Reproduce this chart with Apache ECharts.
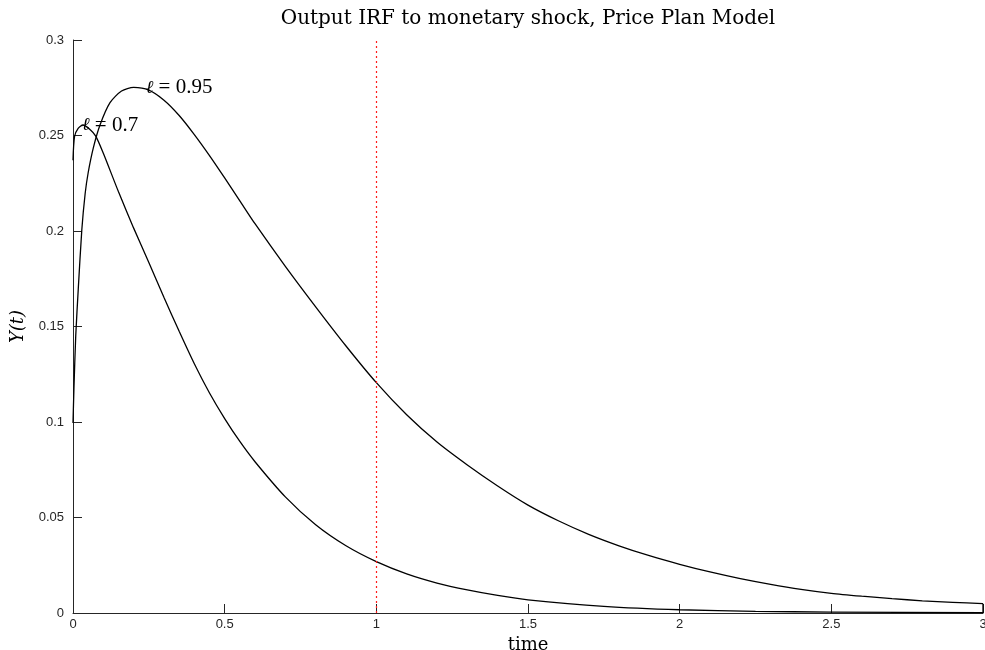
<!DOCTYPE html>
<html>
<head>
<meta charset="utf-8">
<script src="https://cdn.jsdelivr.net/npm/echarts@6/dist/echarts.min.js"></script>
<style>html,body{margin:0;padding:0;background:#fff;overflow:hidden}#c{width:985px;height:650px}</style>
</head>
<body>
<div id="c"></div>
<script>
const titleText = 'Output IRF to monetary shock, Price Plan Model';
const xTicks = [0, 0.5, 1, 1.5, 2, 2.5, 3];
const yTicks = [0, 0.05, 0.1, 0.15, 0.2, 0.25, 0.3];
const curve095 = [
  [0, 0.0995], [0.003, 0.117], [0.009, 0.145], [0.0175, 0.170], [0.029, 0.2005],
  [0.04, 0.2195], [0.05, 0.2305], [0.067, 0.2435], [0.089, 0.2555], [0.122, 0.2672],
  [0.16, 0.2733], [0.2, 0.2752], [0.25, 0.2738], [0.3, 0.2685], [0.35, 0.2605],
  [0.4, 0.2505], [0.45, 0.2395], [0.5, 0.2278], [0.55, 0.2158], [0.6, 0.2038],
  [0.7, 0.1815], [0.8, 0.1603], [0.9, 0.1398], [1.0, 0.1206], [1.1, 0.1038],
  [1.2, 0.0895], [1.3, 0.0775], [1.4, 0.0665], [1.5, 0.0565], [1.6, 0.0483],
  [1.7, 0.0412], [1.8, 0.0352], [1.9, 0.0300], [2.0, 0.0255], [2.1, 0.0215],
  [2.2, 0.0180], [2.3, 0.0150], [2.4, 0.0124], [2.5, 0.0103], [2.6, 0.0088],
  [2.7, 0.0075], [2.8, 0.0064], [2.9, 0.0056], [3.0, 0.0049]
];
const curve07 = [
  [0, 0.237], [0.005, 0.2494], [0.017, 0.2537], [0.033, 0.2555], [0.056, 0.2532],
  [0.075, 0.2497], [0.1, 0.2407], [0.15, 0.2205], [0.2, 0.2015], [0.25, 0.1835],
  [0.3, 0.1652], [0.35, 0.1475], [0.4, 0.1305], [0.45, 0.1152], [0.5, 0.1018],
  [0.55, 0.0898], [0.6, 0.0792], [0.7, 0.0608], [0.8, 0.0462], [0.9, 0.0352],
  [1.0, 0.0269], [1.1, 0.0205], [1.2, 0.0157], [1.3, 0.0121], [1.4, 0.0092],
  [1.5, 0.0069], [1.75, 0.0035], [2.0, 0.0017], [2.25, 0.0009], [2.5, 0.0005],
  [3.0, 0.0002]
];
const endDrop = [[3.0, 0.0049], [3.0, 0]];
const shockTime = 1;
const labels = [
  {name: '0.95', coord: [0.24, 0.2749]},
  {name: '0.7', coord: [0.03, 0.2555]}
];

const chart = echarts.init(document.getElementById('c'), null, {renderer: 'canvas'});
const axisCol = '#262626';
const lineStyle = {color: '#000', width: 1.3};
function lbl(n) {
  return {
    show: true, position: 'right', distance: 0,
    formatter: '{l|ℓ}{t| = ' + n + '}',
    rich: {
      l: {fontFamily: 'DejaVu Serif', fontStyle: 'italic', fontSize: 18, color: '#000'},
      t: {fontFamily: 'Liberation Serif', fontSize: 21, color: '#000'}
    }
  };
}
chart.setOption({
  animation: false,
  backgroundColor: '#fff',
  title: {
    text: titleText, left: 523, textAlign: 'center', top: 4,
    textStyle: {fontFamily: 'DejaVu Serif', fontWeight: 'normal', fontSize: 20, color: '#000'}
  },
  grid: {left: 73, right: 2, top: 40, bottom: 37, containLabel: false, outerBoundsMode: 'none'},
  xAxis: {
    type: 'value', min: xTicks[0], max: xTicks[xTicks.length - 1], interval: 0.5,
    name: 'time', nameLocation: 'middle', nameGap: 23,
    nameTextStyle: {fontFamily: 'DejaVu Serif', fontSize: 18, color: '#000'},
    axisLine: {show: true, lineStyle: {color: axisCol, width: 1}},
    axisTick: {show: true, inside: true, length: 9, lineStyle: {color: axisCol}},
    axisLabel: {fontFamily: 'Liberation Sans', fontSize: 13, color: axisCol, margin: 5},
    splitLine: {show: false}
  },
  yAxis: {
    type: 'value', min: yTicks[0], max: yTicks[yTicks.length - 1], interval: 0.05,
    name: 'Y(t)', nameLocation: 'middle', nameGap: 46, nameRotate: 90,
    nameTextStyle: {fontFamily: 'DejaVu Serif', fontStyle: 'italic', fontSize: 18, color: '#000'},
    axisLine: {show: true, lineStyle: {color: axisCol, width: 1}},
    axisTick: {show: true, inside: true, length: 9, lineStyle: {color: axisCol}},
    axisLabel: {fontFamily: 'Liberation Sans', fontSize: 13, color: axisCol, margin: 9},
    splitLine: {show: false}
  },
  series: [
    {
      type: 'line', data: curve095, showSymbol: false, smooth: 0.25,
      lineStyle: lineStyle, z: 3,
      markPoint: {
        symbol: 'circle', symbolSize: 0, silent: true,
        data: [{coord: labels[0].coord, label: lbl(labels[0].name)}]
      }
    },
    {
      type: 'line', data: curve07, showSymbol: false, smooth: 0.25,
      lineStyle: lineStyle, z: 3,
      markPoint: {
        symbol: 'circle', symbolSize: 0, silent: true,
        data: [{coord: labels[1].coord, label: lbl(labels[1].name)}]
      },
      markLine: {
        silent: true, symbol: 'none',
        label: {show: false},
        lineStyle: {color: '#ff1a1a', type: [2, 3], width: 1.2},
        data: [{xAxis: shockTime}]
      }
    },
    {
      type: 'line', data: endDrop, showSymbol: false, lineStyle: lineStyle, z: 3
    }
  ]
});
</script>
</body>
</html>
